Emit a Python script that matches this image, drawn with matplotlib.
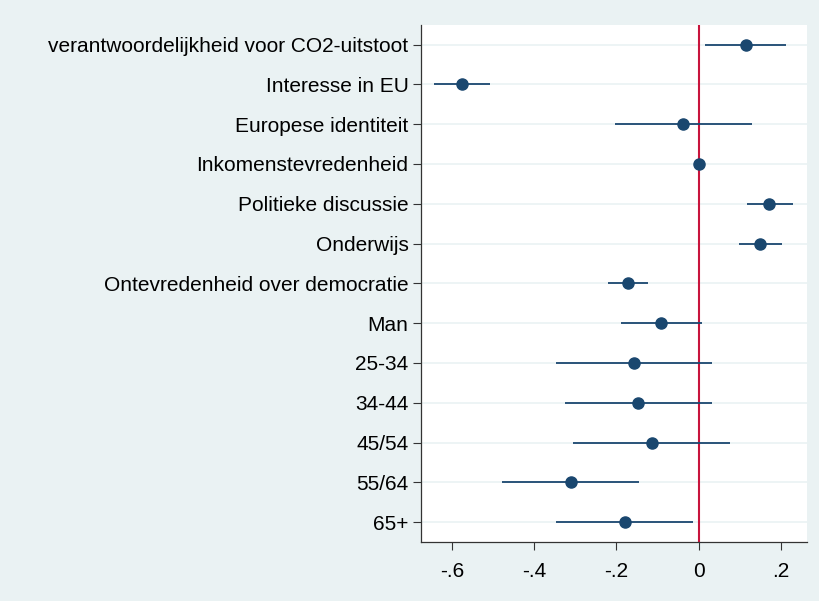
import matplotlib.pyplot as plt

# coefficient plot, values
labels = [
    "verantwoordelijkheid voor CO2-uitstoot",
    "Interesse in EU",
    "Europese identiteit",
    "Inkomenstevredenheid",
    "Politieke discussie",
    "Onderwijs",
    "Ontevredenheid over democratie",
    "Man",
    "25-34",
    "34-44",
    "45/54",
    "55/64",
    "65+",
]
coef = [0.114, -0.576, -0.037, 0.001, 0.172, 0.149, -0.173, -0.091, -0.157, -0.147, -0.114, -0.311, -0.180]
ci_low = [0.015, -0.643, -0.203, 0.001, 0.117, 0.099, -0.220, -0.190, -0.348, -0.326, -0.305, -0.478, -0.348]
ci_high = [0.212, -0.507, 0.130, 0.001, 0.230, 0.202, -0.124, 0.008, 0.033, 0.033, 0.075, -0.146, -0.015]
xticks = [-0.6, -0.4, -0.2, 0, 0.2]
xticklabels = ["-.6", "-.4", "-.2", "0", ".2"]

bg = "#eaf2f3"
navy = "#1a476f"

plt.rcParams["font.family"] = ["Liberation Sans", "DejaVu Sans"]

fig = plt.figure(figsize=(8.19, 6.01), dpi=100, facecolor=bg)
ax = fig.add_axes([0.514, 0.098, 0.471, 0.861])
ax.set_facecolor("white")

pos = list(range(len(labels)))
ax.hlines(pos, ci_low, ci_high, color=navy, lw=1.3, zorder=3)
ax.plot(coef, pos, "o", color=navy, ms=8, zorder=4)
ax.axvline(0, color="#c8143c", lw=1.5, zorder=2)

ax.set_yticks(pos)
ax.set_yticklabels(labels)
ax.set_ylim(len(labels) - 0.5, -0.5)
ax.set_xticks(xticks)
ax.set_xticklabels(xticklabels)
ax.set_xlim(-0.675, 0.2625)

ax.grid(axis="y", color=bg, lw=1.2, zorder=0)
ax.tick_params(labelsize=15, length=6, width=0.8, color="#333333")
ax.tick_params(axis="y", pad=3)
ax.tick_params(axis="x", pad=8)
for s in ["top", "right"]:
    ax.spines[s].set_visible(False)
for s in ["left", "bottom"]:
    ax.spines[s].set_color("#333333")
    ax.spines[s].set_linewidth(0.9)

fig.savefig("out.png", dpi=100, facecolor=bg)
